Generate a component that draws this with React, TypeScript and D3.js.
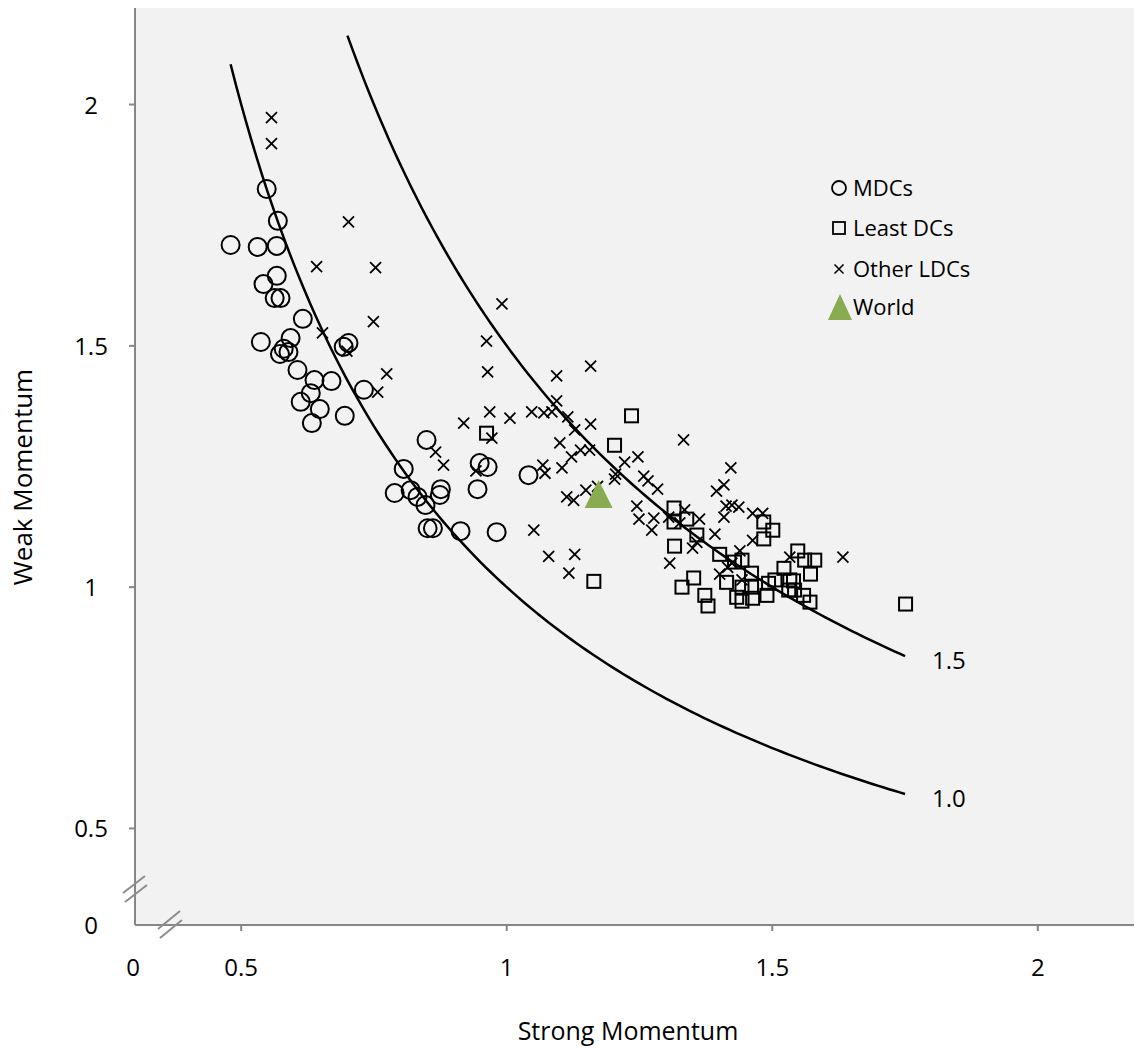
import { useEffect, useRef } from 'react';
import * as d3 from 'd3';

type Pt = [number, number];

// MDCs (circles)
const mdcs: Pt[] = [
  [0.48, 1.709], [0.531, 1.705], [0.567, 1.707], [0.548, 1.825], [0.569, 1.759],
  [0.567, 1.645], [0.542, 1.628], [0.563, 1.599], [0.574, 1.599], [0.616, 1.556],
  [0.537, 1.508], [0.593, 1.516], [0.58, 1.494], [0.573, 1.483], [0.589, 1.487],
  [0.606, 1.45], [0.638, 1.429], [0.67, 1.427], [0.631, 1.402], [0.612, 1.384],
  [0.648, 1.369], [0.633, 1.34], [0.695, 1.355], [0.731, 1.409], [0.693, 1.498],
  [0.702, 1.506], [0.849, 1.305], [0.806, 1.245], [0.789, 1.195], [0.819, 1.201],
  [0.832, 1.187], [0.847, 1.17], [0.876, 1.203], [0.874, 1.191], [0.851, 1.122],
  [0.861, 1.122], [0.913, 1.116], [0.981, 1.114], [0.949, 1.257], [0.964, 1.249],
  [0.945, 1.203], [1.041, 1.232],
];

// Least DCs (squares)
const leastDCs: Pt[] = [
  [0.962, 1.319], [1.235, 1.355], [1.203, 1.294], [1.164, 1.012], [1.315, 1.164],
  [1.315, 1.135], [1.339, 1.141], [1.358, 1.108], [1.316, 1.085], [1.401, 1.068],
  [1.352, 1.019], [1.33, 1.0], [1.373, 0.983], [1.379, 0.961], [1.429, 1.052],
  [1.443, 1.056], [1.414, 1.01], [1.461, 1.029], [1.433, 0.979], [1.443, 0.971],
  [1.463, 0.977], [1.49, 0.983], [1.493, 1.008], [1.505, 1.015], [1.522, 1.039],
  [1.533, 1.015], [1.54, 1.013], [1.531, 0.994], [1.542, 0.994], [1.548, 1.075],
  [1.561, 1.056], [1.58, 1.056], [1.572, 1.027], [1.559, 0.983], [1.571, 0.969],
  [1.484, 1.135], [1.501, 1.118], [1.484, 1.1], [1.751, 0.965], [1.443, 1.0],
  [1.461, 1.0],
];

// Other LDCs (crosses)
const otherLDCs: Pt[] = [
  [0.557, 1.973], [0.557, 1.919], [0.702, 1.757], [0.642, 1.664], [0.753, 1.662],
  [0.749, 1.55], [0.653, 1.527], [0.699, 1.489], [0.774, 1.442], [0.757, 1.404],
  [0.991, 1.587], [0.962, 1.51], [0.964, 1.446], [1.158, 1.458], [1.094, 1.438],
  [1.094, 1.386], [0.968, 1.363], [1.006, 1.35], [0.919, 1.34], [1.047, 1.363],
  [1.07, 1.361], [1.085, 1.363], [1.115, 1.353], [1.158, 1.338], [1.128, 1.326],
  [0.972, 1.309], [1.333, 1.305], [1.1, 1.299], [1.139, 1.284], [1.156, 1.284],
  [1.122, 1.27], [1.247, 1.27], [1.222, 1.259], [0.866, 1.28], [0.881, 1.253],
  [0.942, 1.241], [1.068, 1.253], [1.072, 1.236], [1.104, 1.247], [1.205, 1.234],
  [1.203, 1.224], [1.171, 1.209], [1.149, 1.201], [1.113, 1.187], [1.126, 1.18],
  [1.258, 1.23], [1.266, 1.22], [1.284, 1.203], [1.245, 1.168], [1.249, 1.141],
  [1.277, 1.143], [1.273, 1.118], [1.335, 1.16], [1.051, 1.118], [1.079, 1.064],
  [1.128, 1.068], [1.117, 1.029], [1.422, 1.247], [1.409, 1.212], [1.395, 1.199],
  [1.413, 1.168], [1.437, 1.166], [1.409, 1.145], [1.363, 1.141], [1.305, 1.145],
  [1.326, 1.133], [1.358, 1.093], [1.35, 1.081], [1.392, 1.11], [1.307, 1.05],
  [1.463, 1.153], [1.482, 1.153], [1.463, 1.097], [1.439, 1.075], [1.424, 1.05],
  [1.401, 1.027], [1.416, 1.041], [1.443, 1.015], [1.533, 1.062], [1.633, 1.062],
  [1.424, 1.17],
];

const world: Pt[] = [[1.173, 1.193]];

// iso-curves x * y = level
const curveLevels = [1.0, 1.5];
const curveStarts = [0.48, 0.7];
const curveEnd = 1.75;
const curveLabels = ['1.0', '1.5'];

const xTicks = [0.5, 1, 1.5, 2];
const yTicks = [0.5, 1, 1.5, 2];
const legendLabels = ['MDCs', 'Least DCs', 'Other LDCs', 'World'];

const FONT = "'Open Sans', sans-serif";
const AXIS_GRAY = '#868686';
const GREEN = '#8aac50';

const App = () => {
  const ref = useRef<SVGSVGElement>(null);

  useEffect(() => {
    if (!ref.current) return;
    const svg = d3.select(ref.current);
    svg.selectAll('*').remove();

    const W = 1134;
    const H = 1049;
    const margin = { top: 8, left: 135 };
    const plotW = 1009;
    const plotH = 917;

    const x = d3.scaleLinear().domain([0.3, 2.2]).range([margin.left, margin.left + plotW]);
    const y = d3.scaleLinear().domain([0.3, 2.2]).range([margin.top + plotH, margin.top]);
    const x0 = x(0.3);
    const y0 = y(0.3);

    svg.attr('width', W).attr('height', H);

    // plot background
    svg.append('rect')
      .attr('x', x0).attr('y', y(2.2))
      .attr('width', plotW).attr('height', plotH)
      .attr('fill', '#f2f2f2');

    // axes lines
    svg.append('line')
      .attr('x1', x0).attr('x2', x0).attr('y1', y(2.2)).attr('y2', y0)
      .attr('stroke', AXIS_GRAY).attr('stroke-width', 2);
    svg.append('line')
      .attr('x1', x0).attr('x2', W).attr('y1', y0).attr('y2', y0)
      .attr('stroke', AXIS_GRAY).attr('stroke-width', 2);

    // ticks
    svg.selectAll('.ytick').data(yTicks).enter().append('line')
      .attr('x1', x0 - 6).attr('x2', x0)
      .attr('y1', (d) => y(d)).attr('y2', (d) => y(d))
      .attr('stroke', AXIS_GRAY).attr('stroke-width', 2);
    svg.selectAll('.xtick').data(xTicks).enter().append('line')
      .attr('x1', (d) => x(d)).attr('x2', (d) => x(d))
      .attr('y1', y0).attr('y2', y0 + 6)
      .attr('stroke', AXIS_GRAY).attr('stroke-width', 2);

    // tick labels (with the "0" at the broken origin)
    const yLabels = [...yTicks.map((d) => ({ v: d, t: String(d) })), { v: 0.3, t: '0' }];
    svg.selectAll('.ylab').data(yLabels).enter().append('text')
      .attr('x', 91).attr('y', (d) => y(d.v) + 9)
      .attr('text-anchor', 'middle')
      .attr('font-family', FONT).attr('font-size', 24)
      .text((d) => d.t);
    const xLabels = [{ v: 0.3, t: '0' }, ...xTicks.map((d) => ({ v: d, t: String(d) }))];
    svg.selectAll('.xlab').data(xLabels).enter().append('text')
      .attr('x', (d) => x(d.v) - (d.v === 0.3 ? 2 : 0)).attr('y', 976)
      .attr('text-anchor', 'middle')
      .attr('font-family', FONT).attr('font-size', 24)
      .text((d) => d.t);

    // axis break marks
    const breaks = [
      [[123, 893], [145, 876]],
      [[125, 902], [147, 885]],
      [[158, 929], [180, 911]],
      [[160, 938], [182, 920]],
    ];
    breaks.forEach(([a, b]) => {
      svg.append('line')
        .attr('x1', a[0]).attr('y1', a[1]).attr('x2', b[0]).attr('y2', b[1])
        .attr('stroke', '#8c8c8c').attr('stroke-width', 2);
    });

    // axis titles
    svg.append('text')
      .attr('x', 628).attr('y', 1040)
      .attr('text-anchor', 'middle')
      .attr('font-family', FONT).attr('font-size', 25)
      .text('Strong Momentum');
    svg.append('text')
      .attr('transform', 'translate(32,477) rotate(-90)')
      .attr('text-anchor', 'middle')
      .attr('font-family', FONT).attr('font-size', 26)
      .text('Weak Momentum');

    // markers
    const g = svg.append('g');
    g.selectAll('.mdc').data(mdcs).enter().append('circle')
      .attr('cx', (d) => x(d[0])).attr('cy', (d) => y(d[1]))
      .attr('r', 9).attr('fill', 'none')
      .attr('stroke', '#000').attr('stroke-width', 2);

    g.selectAll('.ldc').data(leastDCs).enter().append('rect')
      .attr('x', (d) => x(d[0]) - 6.5).attr('y', (d) => y(d[1]) - 6.5)
      .attr('width', 13).attr('height', 13).attr('fill', 'none')
      .attr('stroke', '#000').attr('stroke-width', 2);

    const cross = (sel: any, cx: number, cy: number, s: number, sw: number) => {
      sel.append('path')
        .attr('d', `M${cx - s},${cy - s}L${cx + s},${cy + s}M${cx - s},${cy + s}L${cx + s},${cy - s}`)
        .attr('stroke', '#000').attr('stroke-width', sw).attr('fill', 'none');
    };
    otherLDCs.forEach((d) => cross(g, x(d[0]), y(d[1]), 5.5, 1.8));

    const tri = (cx: number, cy: number, w: number, h: number) =>
      `M${cx},${cy - h / 2}L${cx + w / 2},${cy + h / 2}L${cx - w / 2},${cy + h / 2}Z`;
    g.selectAll('.world').data(world).enter().append('path')
      .attr('d', (d) => tri(x(d[0]), y(d[1]), 28, 28))
      .attr('fill', GREEN);

    // iso-curves
    const line = d3.line<Pt>().x((d) => x(d[0])).y((d) => y(d[1]));
    curveLevels.forEach((k, i) => {
      const pts: Pt[] = d3.range(curveStarts[i], curveEnd + 0.0001, 0.01).map((v) => [v, k / v]);
      svg.append('path')
        .attr('d', line(pts))
        .attr('fill', 'none').attr('stroke', '#000').attr('stroke-width', 2.5);
      svg.append('text')
        .attr('x', x(curveEnd) + 27).attr('y', y(k / curveEnd) + 13)
        .attr('font-family', FONT).attr('font-size', 24)
        .text(curveLabels[i]);
    });

    // legend
    const lx = 839;
    const ly = [188, 228, 269, 307];
    const lg = svg.append('g');
    lg.append('circle').attr('cx', lx).attr('cy', ly[0]).attr('r', 7)
      .attr('fill', 'none').attr('stroke', '#000').attr('stroke-width', 1.8);
    lg.append('rect').attr('x', lx - 6).attr('y', ly[1] - 6).attr('width', 12).attr('height', 12)
      .attr('fill', 'none').attr('stroke', '#000').attr('stroke-width', 1.8);
    cross(lg, lx, ly[2], 4.5, 1.6);
    lg.append('path').attr('d', tri(lx + 1, ly[3], 24, 26)).attr('fill', GREEN);
    legendLabels.forEach((t, i) => {
      lg.append('text')
        .attr('x', 853).attr('y', ly[i] + 8)
        .attr('font-family', FONT).attr('font-size', 22)
        .text(t);
    });
  }, []);

  return (
    <div>
      <svg ref={ref} style={{ position: 'absolute', left: 0, top: 0 }}></svg>
    </div>
  );
};

export default App;
